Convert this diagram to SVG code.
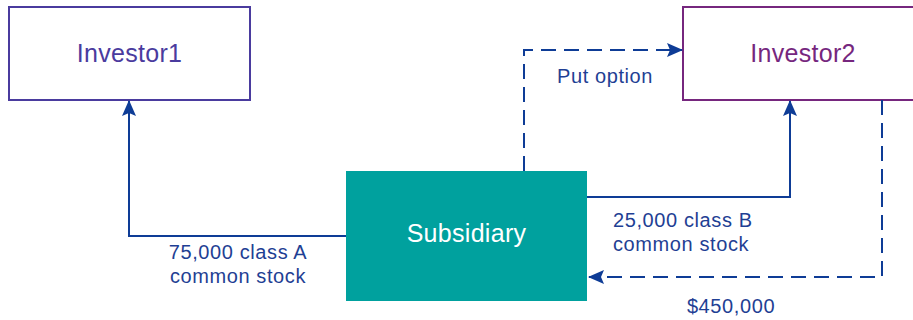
<svg xmlns="http://www.w3.org/2000/svg" width="913" height="320" viewBox="0 0 913 320">
<style>
.node-text{font-family:"Liberation Sans",Arial,sans-serif;font-size:25px;letter-spacing:0.3px;text-anchor:middle}
.label{font-family:"Liberation Sans",Arial,sans-serif;font-size:20px;letter-spacing:0.6px;fill:#1F3F94}
.conn{fill:none;stroke:#0E3C96;stroke-width:2}
.dash{stroke-dasharray:15 8}
</style>
<defs>
<marker id="arrow" viewBox="0 0 16 14" refX="15" refY="7" markerWidth="16" markerHeight="14" markerUnits="userSpaceOnUse" orient="auto">
<path d="M0,0 L16,7 L0,14 L3,7 Z" fill="#0E3C96"/>
</marker>
</defs>
<rect width="913" height="320" fill="#FFFFFF"/>
<g id="investor1">
<rect x="9" y="7" width="241" height="93" fill="#FFFFFF" stroke="#4A3B9E" stroke-width="2"/>
<text class="node-text" x="129.5" y="62" fill="#4A3B9E">Investor1</text>
</g>
<g id="investor2">
<rect x="683" y="7" width="241" height="93" fill="#FFFFFF" stroke="#76277E" stroke-width="2"/>
<text class="node-text" x="803" y="62" fill="#76277E">Investor2</text>
</g>
<g id="subsidiary">
<rect x="346" y="171" width="241" height="130" fill="#00A19E"/>
<text class="node-text" x="466.5" y="242" fill="#FFFFFF">Subsidiary</text>
</g>
<g id="connectors">
<path class="conn" d="M346,236 H129 V101" marker-end="url(#arrow)"/>
<path class="conn" d="M587,197 H790 V101" marker-end="url(#arrow)"/>
<path class="conn dash" d="M882,100 V277 H589" marker-end="url(#arrow)"/>
<path class="conn dash" d="M524,171 V50 H682" marker-end="url(#arrow)"/>
</g>
<g id="labels">
<text class="label" x="238" y="259" text-anchor="middle">75,000 class A</text>
<text class="label" x="238" y="283" text-anchor="middle">common stock</text>
<text class="label" x="613" y="227">25,000 class B</text>
<text class="label" x="613" y="251">common stock</text>
<text class="label" x="731" y="313" text-anchor="middle">$450,000</text>
<text class="label" x="557" y="83">Put option</text>
</g>
</svg>
